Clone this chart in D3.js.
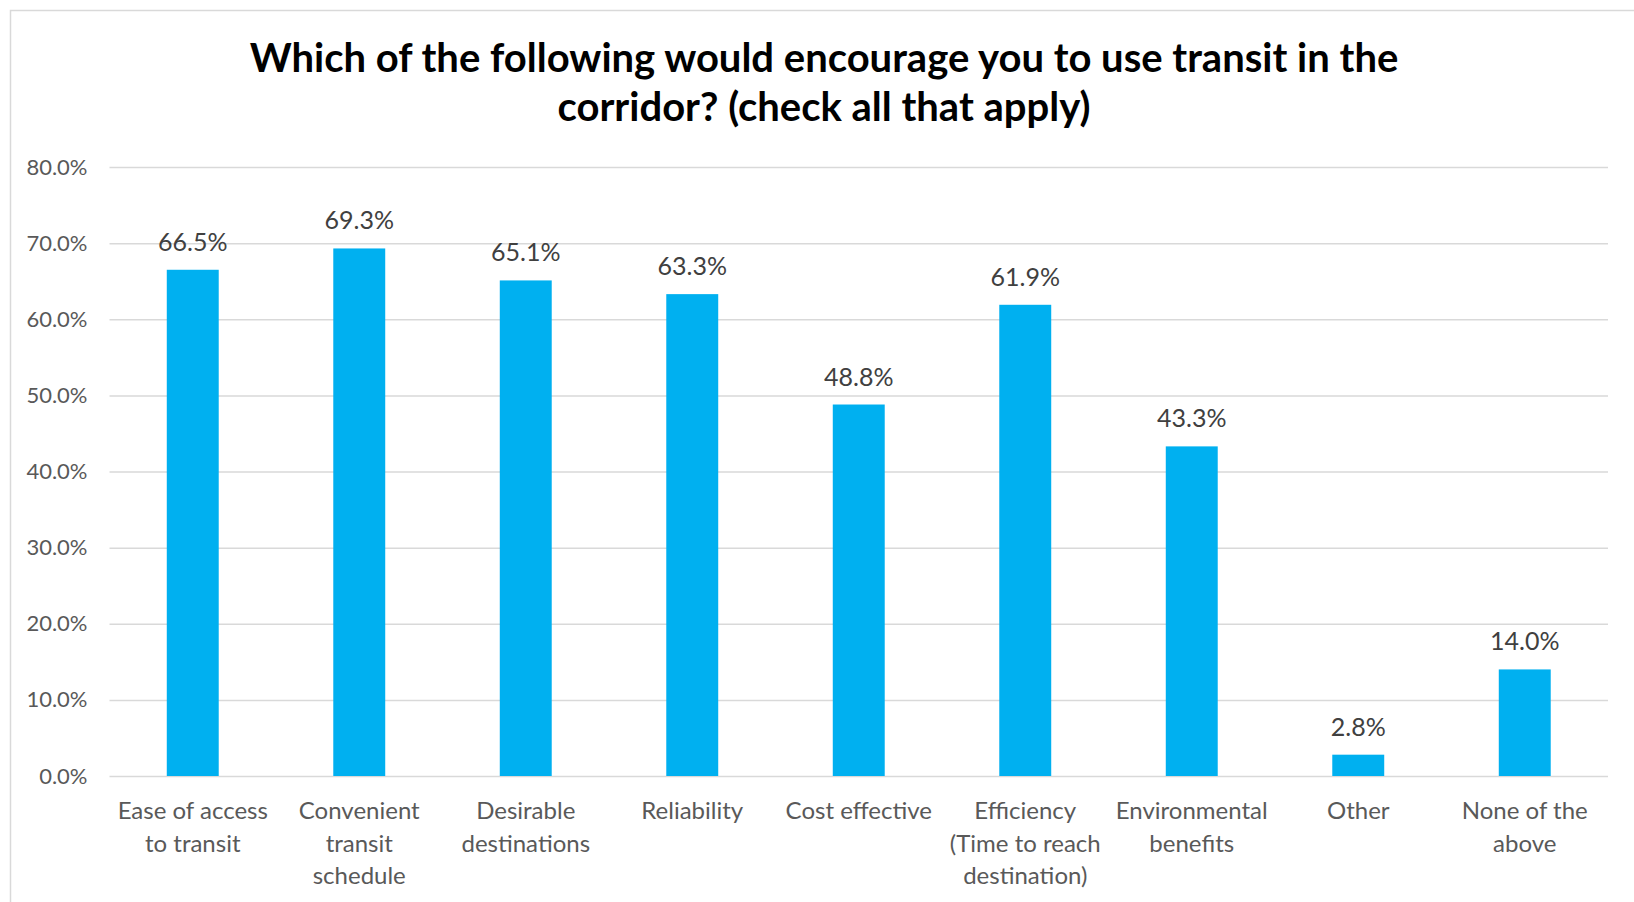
<!DOCTYPE html>
<html>
<head>
<meta charset="utf-8">
<script src="https://cdn.jsdelivr.net/npm/d3@7"></script>
<style>
  html, body { margin: 0; padding: 0; background: #fff; }
  svg { display: block; }
</style>
</head>
<body>
<svg id="chart"></svg>
<script>
"use strict";

// chart data
const categories = [
  "Ease of access to transit",
  "Convenient transit schedule",
  "Desirable destinations",
  "Reliability",
  "Cost effective",
  "Efficiency (Time to reach destination)",
  "Environmental benefits",
  "Other",
  "None of the above"
];
const categoryLines = [
  ["Ease of access", "to transit"],
  ["Convenient", "transit", "schedule"],
  ["Desirable", "destinations"],
  ["Reliability"],
  ["Cost effective"],
  ["Efficiency", "(Time to reach", "destination)"],
  ["Environmental", "benefits"],
  ["Other"],
  ["None of the", "above"]
];
const values = [66.5, 69.3, 65.1, 63.3, 48.8, 61.9, 43.3, 2.8, 14.0];
const yTicks = [0, 10, 20, 30, 40, 50, 60, 70, 80];
const titleLines = [
  "Which of the following would encourage you to use transit in the",
  "corridor? (check all that apply)"
];

const W = 1634, H = 902;
const plot = { left: 109.5, right: 1608, top: 167, bottom: 776 };
const font = "Lato, 'Open Sans', sans-serif";

const svg = d3.select("#chart")
  .attr("width", W)
  .attr("height", H);

// chart frame (runs off the right and bottom edges)
svg.append("rect")
  .attr("x", 10.5)
  .attr("y", 10.5)
  .attr("width", 1640)
  .attr("height", 920)
  .attr("fill", "#fff")
  .attr("stroke", "#d9d9d9")
  .attr("stroke-width", 1.5);

let x = d3.scaleBand()
  .domain(categories)
  .range([plot.left, plot.right])
  .paddingInner(0.688)
  .paddingOuter(0.344);

let y = d3.scaleLinear()
  .domain([0, 80])
  .range([plot.bottom, plot.top]);

// gridlines + y labels
let yAxis = svg.append("g")
  .attr("transform", "translate(" + plot.left + ",0)")
  .call(d3.axisLeft(y)
    .tickValues(yTicks)
    .tickSize(-(plot.right - plot.left))
    .tickPadding(22)
    .tickFormat(d => d3.format(".1f")(d) + "%"));

yAxis.select(".domain").remove();
yAxis.selectAll(".tick line")
  .attr("stroke", "#d9d9d9")
  .attr("stroke-width", 1.5);
yAxis.selectAll(".tick text")
  .attr("font-family", font)
  .attr("font-size", 22)
  .attr("fill", "#595959");

// bars
svg.append("g")
  .selectAll("rect")
  .data(values)
  .join("rect")
  .attr("x", (d, i) => x(categories[i]))
  .attr("y", d => y(d))
  .attr("width", x.bandwidth())
  .attr("height", d => y(0) - y(d))
  .attr("fill", "#00b0f0");

// value labels
svg.append("g")
  .selectAll("text")
  .data(values)
  .join("text")
  .attr("x", (d, i) => x(categories[i]) + x.bandwidth() / 2)
  .attr("y", d => y(d) - 19)
  .attr("text-anchor", "middle")
  .attr("font-family", font)
  .attr("font-size", 25)
  .attr("fill", "#404040")
  .text(d => d3.format(".1f")(d) + "%");

// category labels
let xAxis = svg.append("g")
  .attr("transform", "translate(0," + plot.bottom + ")")
  .call(d3.axisBottom(x).tickSize(0).tickFormat(""));
xAxis.select(".domain").remove();

xAxis.selectAll(".tick").each(function(d, i) {
  let t = d3.select(this).select("text")
    .attr("y", 0)
    .attr("dy", null)
    .attr("font-family", font)
    .attr("font-size", 24)
    .attr("fill", "#595959");
  categoryLines[i].forEach((line, j) => {
    t.append("tspan")
      .attr("x", 0)
      .attr("y", 43 + j * 32.5)
      .text(line);
  });
});

// title
svg.append("text")
  .attr("x", 824)
  .attr("y", 72)
  .attr("text-anchor", "middle")
  .attr("font-family", font)
  .attr("font-weight", "bold")
  .attr("font-size", 40)
  .attr("fill", "#000")
  .selectAll("tspan")
  .data(titleLines)
  .join("tspan")
  .attr("x", 824)
  .attr("dy", (d, i) => i === 0 ? 0 : 48.5)
  .text(d => d);
</script>
</body>
</html>
